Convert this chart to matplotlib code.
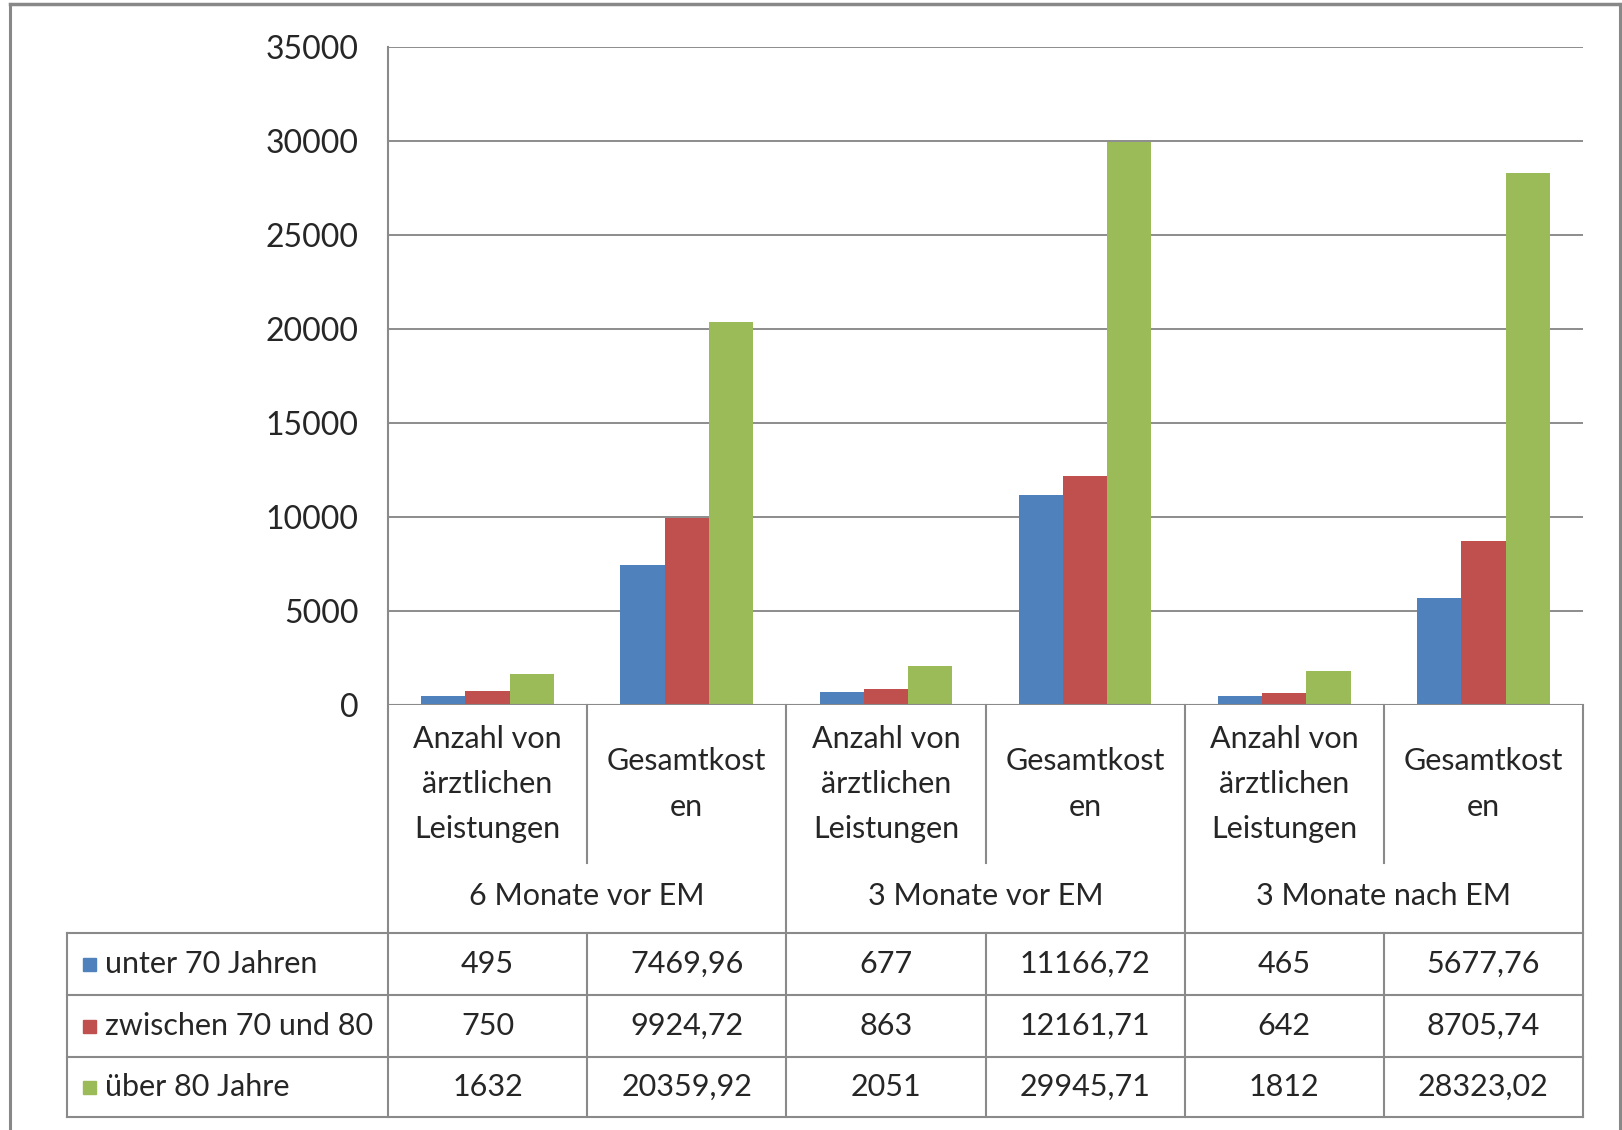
import matplotlib
matplotlib.use("Agg")
import matplotlib.pyplot as plt
import matplotlib.transforms as mtransforms
from matplotlib.lines import Line2D
import numpy as np

plt.rcParams['font.family'] = ['Lato', 'DejaVu Sans']

# ---------------- data ----------------
categories = ["Anzahl von\närztlichen\nLeistungen", "Gesamtkost\nen",
              "Anzahl von\närztlichen\nLeistungen", "Gesamtkost\nen",
              "Anzahl von\närztlichen\nLeistungen", "Gesamtkost\nen"]
groups = ["6 Monate vor EM", "3 Monate vor EM", "3 Monate nach EM"]
series_names = ["unter 70 Jahren", "zwischen 70 und 80", "über 80 Jahre"]
under70 = [495, 7469.96, 677, 11166.72, 465, 5677.76]
between70_80 = [750, 9924.72, 863, 12161.71, 642, 8705.74]
over80 = [1632, 20359.92, 2051, 29945.71, 1812, 28323.02]
yticks = [0, 5000, 10000, 15000, 20000, 25000, 30000, 35000]

series = [under70, between70_80, over80]
colors = ["#4F81BD", "#C0504D", "#9BBB59"]

W, H = 1622, 1130
fig = plt.figure(figsize=(W / 100, H / 100), dpi=100)
fig.patch.set_facecolor("white")

def fy(y):
    return 1 - y / H

def fx(x):
    return x / W

tc = "#262626"
fs = 22

L, R, T, B = 388, 1583, 47, 705
ax = fig.add_axes([fx(L), fy(B), fx(R) - fx(L), fy(T) - fy(B)])
ax.set_xlim(0, len(categories))
ax.set_ylim(0, 35000)
for s in ax.spines.values():
    s.set_visible(False)
ax.set_xticks([])
ax.set_yticks(yticks)
ax.set_yticklabels([str(v) for v in yticks], fontsize=23, color=tc)
ax.tick_params(axis="y", length=0, pad=21)
ax.grid(axis="y", color="#8c8c8c", linewidth=1.4)
ax.set_axisbelow(True)

bw = 1 / 4.5
x = np.arange(len(categories)) + 0.5
for i, (vals, c) in enumerate(zip(series, colors)):
    ax.bar(x + (i - 1) * bw, vals, width=bw, color=c, zorder=3)

# blended transform: x in data, y in figure fraction
bt = mtransforms.blended_transform_factory(ax.transData, fig.transFigure)
lc = "#8a8a8a"
lw = 1.5

def vline_data(xd, y0, y1):
    fig.add_artist(Line2D([xd, xd], [fy(y0), fy(y1)], transform=bt, color=lc, lw=lw, zorder=5))

def hline(y, x0_fig, x1_data):
    x1_fig = ax.transData.transform((x1_data, 0))[0] / fig.dpi / fig.get_figwidth()
    fig.add_artist(Line2D([x0_fig, x1_fig], [fy(y), fy(y)], transform=fig.transFigure,
                          color=lc, lw=lw, zorder=5))

cat_bottom = 863
data_top, row_lines, data_bottom = 933, [995, 1057], 1117
legend_left = 67

ax.axhline(0, color=lc, lw=lw, zorder=4)
vline_data(0, T, data_bottom)
for k in range(1, len(categories) + 1):
    if k % 2 == 1:
        vline_data(k, B, cat_bottom)
        vline_data(k, data_top, data_bottom)
    else:
        vline_data(k, B, data_bottom)
for y in [data_top] + row_lines + [data_bottom]:
    hline(y, fx(legend_left), len(categories))
fig.add_artist(Line2D([fx(legend_left)] * 2, [fy(data_top), fy(data_bottom)],
                      transform=fig.transFigure, color=lc, lw=lw, zorder=5))

line_gap = 45
for k, lab in enumerate(categories):
    lines = lab.split("\n")
    cy = (B + cat_bottom) / 2
    start = cy - (len(lines) - 1) * line_gap / 2
    for j, ln in enumerate(lines):
        fig.text(k + 0.5, fy(start + j * line_gap), ln, transform=bt,
                 fontsize=fs, color=tc, ha="center", va="center")
for g, lab in enumerate(groups):
    fig.text(2 * g + 1, fy(896), lab, transform=bt, fontsize=fs, color=tc, ha="center", va="center")

row_centers = [(data_top + row_lines[0]) / 2, (row_lines[0] + row_lines[1]) / 2,
               (row_lines[1] + data_bottom) / 2]

def fmt(v):
    if float(v).is_integer():
        return str(int(v))
    return f"{v:.2f}".replace(".", ",")

for r, (name, vals, c) in enumerate(zip(series_names, series, colors)):
    yc = row_centers[r]
    fig.patches.append(plt.Rectangle((fx(83), fy(yc + 7)), fx(13), 13 / H, color=c,
                                     transform=fig.transFigure, figure=fig))
    fig.text(fx(105), fy(yc), name, fontsize=fs, color=tc, ha="left", va="center")
    for k, v in enumerate(vals):
        fig.text(k + 0.5, fy(yc), fmt(v), transform=bt, fontsize=fs, color=tc,
                 ha="center", va="center")

fc = "#888888"
fig.add_artist(Line2D([fx(10), fx(10)], [fy(4), 0], transform=fig.transFigure, color=fc, lw=2.2))
fig.add_artist(Line2D([fx(1620), fx(1620)], [fy(4), 0], transform=fig.transFigure, color=fc, lw=2.2))
fig.add_artist(Line2D([fx(10), fx(1620)], [fy(4), fy(4)], transform=fig.transFigure, color=fc, lw=2.5))

fig.savefig("out.png", dpi=100)
